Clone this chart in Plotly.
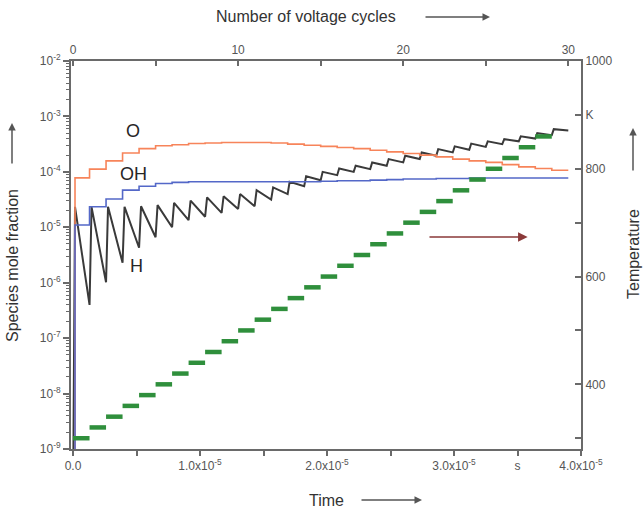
import plotly.graph_objects as go

# ---------------- data ----------------
cycle_period_s = 1.3e-6          # duration of one voltage cycle
rise_fraction = 0.12             # fraction of a cycle for the H spike to rise
initial_fraction = 1e-10         # species fraction at t = 0 (below axis)

cycles = list(range(30))

O_level = [7.8e-5, 1.12e-4, 1.58e-4, 2.19e-4, 2.63e-4, 2.95e-4, 3.09e-4, 3.24e-4,
           3.31e-4, 3.39e-4, 3.39e-4, 3.39e-4, 3.31e-4, 3.16e-4, 3.02e-4, 2.88e-4,
           2.75e-4, 2.63e-4, 2.45e-4, 2.29e-4, 2.14e-4, 2.0e-4, 1.86e-4, 1.70e-4,
           1.58e-4, 1.48e-4, 1.35e-4, 1.23e-4, 1.15e-4, 1.07e-4]

OH_level = [1.10e-5, 2.34e-5, 3.24e-5, 4.68e-5, 5.50e-5, 6.17e-5, 6.46e-5, 6.61e-5,
            6.61e-5, 6.61e-5, 6.61e-5, 6.61e-5, 6.61e-5, 6.61e-5, 6.61e-5, 6.76e-5,
            6.92e-5, 6.92e-5, 7.08e-5, 7.24e-5, 7.41e-5, 7.41e-5, 7.59e-5, 7.59e-5,
            7.76e-5, 7.76e-5, 7.76e-5, 7.76e-5, 7.76e-5, 7.76e-5]

H_peak = [2.34e-5, 2.34e-5, 2.34e-5, 2.34e-5, 2.40e-5, 2.51e-5, 2.75e-5, 3.02e-5,
          3.47e-5, 3.63e-5, 3.98e-5, 4.68e-5, 5.25e-5, 6.61e-5, 8.32e-5, 1.0e-4,
          1.15e-4, 1.29e-4, 1.48e-4, 1.70e-4, 1.95e-4, 2.24e-4, 2.57e-4, 2.88e-4,
          3.24e-4, 3.55e-4, 3.89e-4, 4.37e-4, 5.0e-4, 5.9e-4]

H_end = [3.98e-7, 1.02e-6, 2.29e-6, 4.27e-6, 6.61e-6, 1.0e-5, 1.35e-5, 1.55e-5,
         1.82e-5, 2.14e-5, 2.40e-5, 3.16e-5, 3.98e-5, 5.50e-5, 7.08e-5, 8.71e-5,
         1.0e-4, 1.12e-4, 1.29e-4, 1.48e-4, 1.70e-4, 1.95e-4, 2.24e-4, 2.51e-4,
         2.82e-4, 3.16e-4, 3.55e-4, 3.98e-4, 4.6e-4, 5.6e-4]

temp_cycles = list(range(29))
temp_K = [300, 320, 340, 360, 380, 400, 420, 440, 460, 480, 500, 520, 540, 560, 580,
          600, 620, 640, 660, 680, 700, 720, 740, 760, 780, 800, 820, 840, 860]

time_tickvals = [0, 0.5e-5, 1.0e-5, 1.5e-5, 2.0e-5, 2.5e-5, 3.0e-5, 3.5e-5, 4.0e-5]
time_ticktext = ["0.0", "", "1.0x10<sup>-5</sup>", "", "2.0x10<sup>-5</sup>", "",
                 "3.0x10<sup>-5</sup>", "s", "4.0x10<sup>-5</sup>"]
cycle_tickvals = [0, 5, 10, 15, 20, 25, 30]
cycle_ticktext = ["0", "", "10", "", "20", "", "30"]
frac_exponents = [-9, -8, -7, -6, -5, -4, -3, -2]
temp_tickvals = [300, 400, 500, 600, 700, 800, 900, 1000]
temp_ticktext = ["", "400", "", "600", "", "800", "K", "1000"]

# ---------------- build traces ----------------
P = cycle_period_s
t_rise = rise_fraction * P
n_cyc = len(cycles)

x_step = [0, t_rise] + [c * P for c in cycles[1:]] + [n_cyc * P]
O_y = [initial_fraction] + O_level + [O_level[-1]]
OH_y = [initial_fraction] + OH_level + [OH_level[-1]]

H_x = [0]
H_y = [initial_fraction]
for c, pk, en in zip(cycles, H_peak, H_end):
    H_x += [c * P + t_rise, (c + 1) * P]
    H_y += [pk, en]

T_x, T_y = [], []
for c, T in zip(temp_cycles, temp_K):
    T_x += [c, c + 1, None]
    T_y += [T, T, None]

FONT = "Liberation Sans, Arial, sans-serif"
AXC = "#6a6a6a"
TICKC = "#555555"

fig = go.Figure()
# invisible carrier trace so the minor-tick overlay axis is drawn
fig.add_trace(go.Scatter(x=x_step, y=OH_y, mode="lines", line=dict(width=0, color="rgba(0,0,0,0)"),
                         hoverinfo="skip", showlegend=False, xaxis="x", yaxis="y3"))
fig.add_trace(go.Scatter(x=H_x, y=H_y, mode="lines", line=dict(color="#3a3a3a", width=2),
                         showlegend=False, xaxis="x", yaxis="y"))
fig.add_trace(go.Scatter(x=x_step, y=O_y, mode="lines", line=dict(color="#f7845a", width=1.6, shape="hv"),
                         showlegend=False, xaxis="x", yaxis="y"))
fig.add_trace(go.Scatter(x=x_step, y=OH_y, mode="lines", line=dict(color="#5468c8", width=1.6, shape="hv"),
                         showlegend=False, xaxis="x", yaxis="y"))
fig.add_trace(go.Scatter(x=T_x, y=T_y, mode="lines", line=dict(color="#2f8f3c", width=4.5),
                         showlegend=False, xaxis="x2", yaxis="y2", connectgaps=False))

x_lo, x_hi = -1.6e-7, 4.0e-5

axis_common = dict(showline=True, linecolor=AXC, linewidth=2, showgrid=False, zeroline=False,
                   automargin=False, tickcolor=AXC, tickwidth=1.5,
                   tickfont=dict(family=FONT, size=12, color=TICKC))

minor_vals = []
for e in frac_exponents[:-1]:
    for m in range(2, 10):
        minor_vals.append(m * 10.0 ** e)

fig.update_layout(
    width=643, height=515,
    margin=dict(l=71, r=62, t=61, b=66, autoexpand=False),
    paper_bgcolor="white", plot_bgcolor="white",
    font=dict(family=FONT),
    xaxis=dict(range=[x_lo, x_hi], tickmode="array", tickvals=time_tickvals, ticktext=time_ticktext,
               ticks="outside", ticklen=5, **axis_common),
    xaxis2=dict(range=[x_lo / P, x_hi / P], overlaying="x", side="top", anchor="y",
                tickmode="array", tickvals=cycle_tickvals, ticktext=cycle_ticktext,
                ticks="inside", ticklen=5, **axis_common),
    yaxis=dict(type="log", range=[-9, -2], tickmode="array",
               tickvals=[10.0 ** e for e in frac_exponents],
               ticktext=["10<sup>%d</sup>" % e for e in frac_exponents],
               ticks="outside", ticklen=6, **axis_common),
    yaxis3=dict(type="log", range=[-9, -2], overlaying="y", side="left", anchor="x",
                tickmode="array", tickvals=minor_vals, showticklabels=False,
                ticks="outside", ticklen=4, tickwidth=1.2, tickcolor=AXC,
                showline=False, showgrid=False, zeroline=False, automargin=False),
    yaxis2=dict(range=[280, 1000], overlaying="y", side="right", anchor="x",
                tickmode="array", tickvals=temp_tickvals, ticktext=temp_ticktext,
                ticks="inside", ticklen=6, **axis_common),
)

def px_x(px):
    return (px - 71) / 510.0

def px_y(py):
    return (449 - py) / 388.0

title_font = dict(family=FONT, size=16, color="#333333")
C = dict(xanchor="center", yanchor="middle")
ann = []
ann.append(dict(text="Number of voltage cycles", x=px_x(306), y=px_y(17), xref="paper", yref="paper",
                showarrow=False, font=title_font, **C))
ann.append(dict(text="", x=px_x(490), y=px_y(17), xref="paper", yref="paper", showarrow=True,
                ax=-66, ay=0, arrowhead=2, arrowsize=1, arrowwidth=1.5, arrowcolor="#555"))
ann.append(dict(text="Time", x=px_x(326), y=px_y(500), xref="paper", yref="paper",
                showarrow=False, font=title_font, **C))
ann.append(dict(text="", x=px_x(422), y=px_y(500), xref="paper", yref="paper", showarrow=True,
                ax=-62, ay=0, arrowhead=2, arrowsize=1, arrowwidth=1.5, arrowcolor="#555"))
ann.append(dict(text="Species mole fraction", x=px_x(12), y=px_y(266), xref="paper", yref="paper",
                showarrow=False, textangle=-90, font=title_font, **C))
ann.append(dict(text="", x=px_x(12), y=px_y(123), xref="paper", yref="paper", showarrow=True,
                ax=0, ay=42, arrowhead=2, arrowsize=1, arrowwidth=1.5, arrowcolor="#555"))
ann.append(dict(text="Temperature", x=px_x(633), y=px_y(254), xref="paper", yref="paper",
                showarrow=False, textangle=-90, font=title_font, **C))
ann.append(dict(text="", x=px_x(633), y=px_y(128), xref="paper", yref="paper", showarrow=True,
                ax=0, ay=44, arrowhead=2, arrowsize=1, arrowwidth=1.5, arrowcolor="#555"))
lab_font = dict(family=FONT, size=18, color="#262626")
ann.append(dict(text="O", x=0.47e-5, y=-3.26, xref="x", yref="y", showarrow=False, font=lab_font, **C))
ann.append(dict(text="OH", x=0.48e-5, y=-4.04, xref="x", yref="y", showarrow=False, font=lab_font, **C))
ann.append(dict(text="H", x=0.50e-5, y=-5.70, xref="x", yref="y", showarrow=False, font=lab_font, **C))
ann.append(dict(text="", x=3.58e-5, y=-5.175, xref="x", yref="y", ax=2.795e-5, ay=-5.175,
                axref="x", ayref="y", showarrow=True, arrowhead=2, arrowsize=1.2, arrowwidth=1.6,
                arrowcolor="#8b3a3a"))
fig.update_layout(annotations=ann)

fig.write_html("out.html", config={"displayModeBar": False},
               post_script="document.body.style.margin='0';document.body.style.padding='0';")
